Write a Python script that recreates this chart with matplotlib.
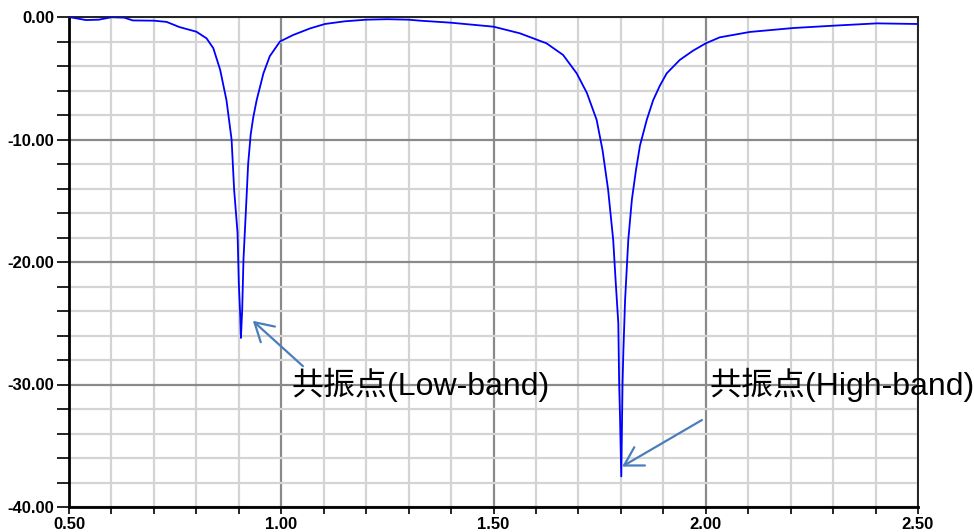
import matplotlib
matplotlib.use("Agg")
from matplotlib import pyplot as plt
from matplotlib.ticker import MultipleLocator, FormatStrFormatter

# ---- Data ----

freq = [0.50, 0.54, 0.57, 0.60, 0.63, 0.65, 0.70, 0.73, 0.76, 0.80, 0.824, 0.84,
        0.856, 0.871, 0.883, 0.889, 0.897, 0.900, 0.9035, 0.905, 0.908, 0.911,
        0.918, 0.922, 0.928, 0.934, 0.942, 0.958, 0.973, 0.997, 1.028, 1.068,
        1.103, 1.15, 1.20, 1.25, 1.30, 1.327, 1.398, 1.50, 1.562, 1.625, 1.664,
        1.696, 1.720, 1.743, 1.757, 1.770, 1.782, 1.788, 1.794, 1.796, 1.798,
        1.801, 1.804, 1.806, 1.810, 1.8175, 1.826, 1.8356, 1.845, 1.861, 1.876,
        1.892, 1.908, 1.939, 1.970, 2.000, 2.033, 2.104, 2.206, 2.30, 2.403, 2.497, 2.50]
s11 = [0.00, -0.25, -0.22, -0.02, -0.05, -0.28, -0.30, -0.40, -0.82, -1.20, -1.74, -2.55,
       -4.30, -6.80, -10.0, -14.1, -17.6, -21.7, -24.5, -26.2, -23.9, -19.8,
       -14.9, -12.0, -9.6, -8.2, -6.8, -4.6, -3.2, -2.0, -1.47, -0.93,
       -0.57, -0.35, -0.22, -0.18, -0.22, -0.30, -0.46, -0.79, -1.33, -2.15, -3.10,
       -4.60, -6.20, -8.40, -10.9, -14.1, -18.2, -21.7, -25.0, -29.9, -32.6,
       -37.5, -29.9, -27.2, -23.1, -18.2, -14.9, -12.5, -10.5, -8.4, -6.8,
       -5.6, -4.6, -3.5, -2.75, -2.15, -1.66, -1.22, -0.90, -0.71, -0.52, -0.57, -0.58]

notes = ["共振点(Low-band)", "共振点(High-band)"]
note_xy = [(0.933, -24.8), (1.803, -36.7)]      # arrow tips
note_text = [(1.025, -30.0), (2.010, -30.0)]    # text anchor (left, center)
note_tail = [(1.051, -28.5), (1.991, -32.9)]    # arrow tails

# ---- Plot ----

fig = plt.figure(figsize=(9.74, 5.32), dpi=100)
ax = fig.add_axes([69 / 974, 1 - 507 / 532, 849 / 974, 490 / 532])

ax.plot(freq, s11, color="#0000ff", linewidth=1.3, zorder=3)

ax.set_xlim(0.5, 2.5)
ax.set_ylim(-40, 0)
ax.xaxis.set_major_locator(MultipleLocator(0.5))
ax.xaxis.set_minor_locator(MultipleLocator(0.1))
ax.yaxis.set_major_locator(MultipleLocator(10))
ax.yaxis.set_minor_locator(MultipleLocator(2))
ax.xaxis.set_major_formatter(FormatStrFormatter("%.2f"))
ax.yaxis.set_major_formatter(FormatStrFormatter("%.2f"))

ax.set_axisbelow(True)
ax.grid(True, which="major", color="#8a8a8a", linewidth=1.6)
ax.grid(True, which="minor", color="#d4d4d4", linewidth=1.6)

ax.tick_params(axis="y", which="both", direction="out", length=9, width=1.2,
               pad=1.5, colors="black")
ax.tick_params(axis="x", which="both", direction="out", length=5, width=1.2,
               pad=2, colors="black")
for lab in ax.get_xticklabels() + ax.get_yticklabels():
    lab.set_family(["Liberation Sans", "DejaVu Sans"])
    lab.set_fontweight("bold")
    lab.set_fontsize(12)

for side in ("left", "bottom"):
    ax.spines[side].set_linewidth(2)
    ax.spines[side].set_color("black")
for side in ("top", "right"):
    ax.spines[side].set_linewidth(1.4)
    ax.spines[side].set_color("#222222")

for label, tip, txt, tail in zip(notes, note_xy, note_text, note_tail):
    ax.annotate("", xy=tip, xytext=tail,
                arrowprops=dict(arrowstyle="->, head_length=0.65, head_width=0.38",
                                color="#4a7ebb", linewidth=1.6,
                                mutation_scale=20, shrinkA=0, shrinkB=0),
                zorder=4)
    ax.text(txt[0], txt[1], label, ha="left", va="center", fontsize=23,
            family=["Liberation Sans", "Noto Sans CJK SC"], color="black",
            zorder=5, clip_on=False)

fig.savefig("out.png", dpi=100)
